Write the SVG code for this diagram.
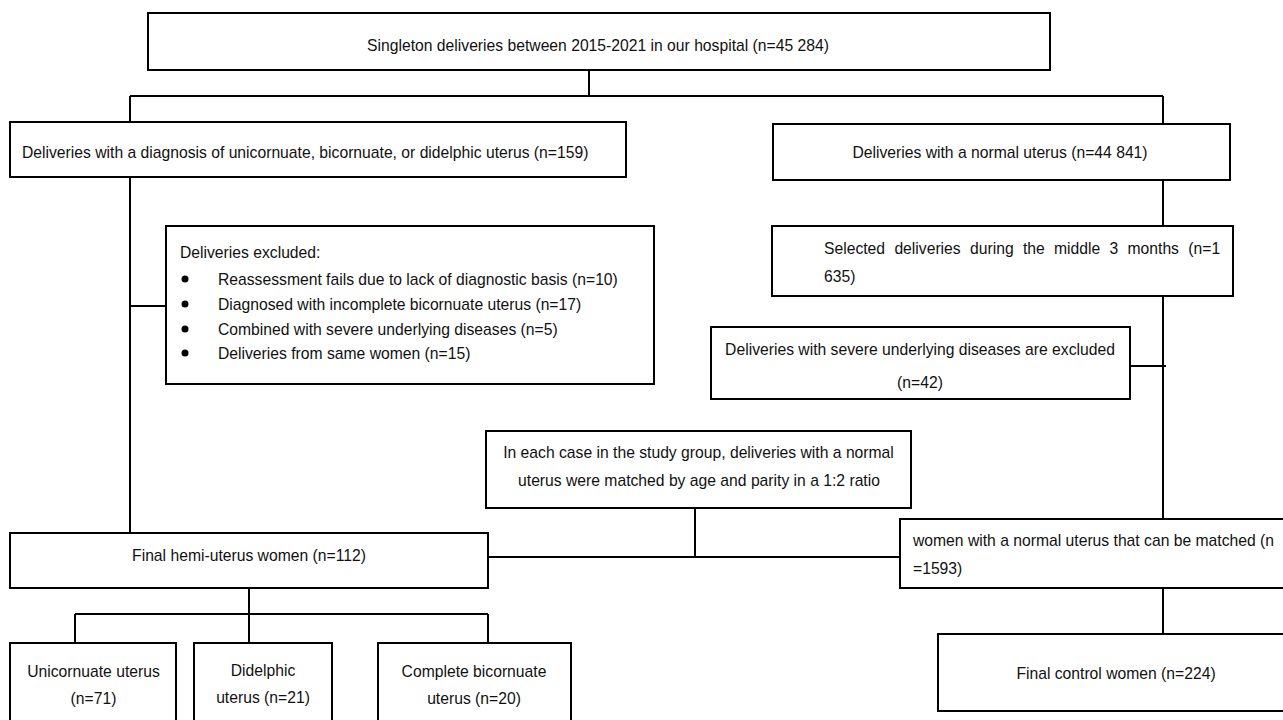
<svg xmlns="http://www.w3.org/2000/svg" width="1283" height="720" viewBox="0 0 1283 720">
<style>
.b{fill:#fff;stroke:#000;stroke-width:2}
.c{fill:none;stroke:#000;stroke-width:2}
text{font-family:"Liberation Sans",Arial,sans-serif;font-size:15.7px;fill:#111}
.m{text-anchor:middle}
</style>
<rect width="1283" height="720" fill="#fff"/>
<g id="connectors">
<path class="c" d="M589 70V96M130 96H1163M130 96V122M1163 96V124"/>
<path class="c" d="M130 177V533M130 306H166"/>
<path class="c" d="M1163 180V226M1163 296V519M1130 366H1166"/>
<path class="c" d="M695 508V557M488 557H900"/>
<path class="c" d="M1163 588V634"/>
<path class="c" d="M249 588V614M75 614H488M75 614V643M249 614V643M488 614V643"/>
</g>
<g id="n-total"><rect class="b" x="148" y="13" width="902" height="57"/><text class="m" x="598" y="51">Singleton deliveries between 2015-2021 in our hospital (n=45 284)</text></g>
<g id="n-anomaly"><rect class="b" x="10" y="122" width="616" height="55"/><text x="22" y="158">Deliveries with a diagnosis of unicornuate, bicornuate, or didelphic uterus (n=159)</text></g>
<g id="n-normal"><rect class="b" x="773" y="124" width="457" height="56"/><text class="m" x="1000" y="158">Deliveries with a normal uterus (n=44 841)</text></g>
<g id="n-excluded"><rect class="b" x="166" y="226" width="488" height="158"/>
<text x="180" y="258">Deliveries excluded:</text>
<circle cx="185" cy="279" r="3.5" fill="#000"/><text x="218" y="285">Reassessment fails due to lack of diagnostic basis (n=10)</text>
<circle cx="185" cy="304" r="3.5" fill="#000"/><text x="218" y="310">Diagnosed with incomplete bicornuate uterus (n=17)</text>
<circle cx="185" cy="329" r="3.5" fill="#000"/><text x="218" y="335">Combined with severe underlying diseases (n=5)</text>
<circle cx="185" cy="353" r="3.5" fill="#000"/><text x="218" y="359">Deliveries from same women (n=15)</text>
</g>
<g id="n-selected"><rect class="b" x="772" y="226" width="461" height="70"/>
<text y="254"><tspan x="824">Selected</tspan> <tspan x="894.4">deliveries</tspan> <tspan x="970">during</tspan> <tspan x="1022.9">the</tspan> <tspan x="1054">middle</tspan> <tspan x="1109.5">3</tspan> <tspan x="1127.5">months</tspan> <tspan x="1188.3">(n=1</tspan></text>
<text x="824" y="282">635)</text></g>
<g id="n-severe"><rect class="b" x="711" y="327" width="419" height="72"/>
<text class="m" x="920" y="355">Deliveries with severe underlying diseases are excluded</text>
<text class="m" x="920" y="388">(n=42)</text></g>
<g id="n-match"><rect class="b" x="486" y="431" width="425" height="77"/>
<text class="m" x="698.5" y="458">In each case in the study group, deliveries with a normal</text>
<text class="m" x="699" y="486">uterus were matched by age and parity in a 1:2 ratio</text></g>
<g id="n-hemi"><rect class="b" x="10" y="533" width="478" height="55"/><text class="m" x="249" y="561">Final hemi-uterus women (n=112)</text></g>
<g id="n-women"><rect class="b" x="900" y="519" width="392" height="69"/>
<text x="913" y="546">women with a normal uterus that can be matched (n</text>
<text x="913" y="574">=1593)</text></g>
<g id="n-control"><rect class="b" x="938" y="634" width="354" height="77"/><text class="m" x="1116" y="679">Final control women (n=224)</text></g>
<g id="n-uni"><rect class="b" x="10" y="643" width="166" height="90"/><text class="m" x="93.5" y="677">Unicornuate uterus</text><text class="m" x="93.5" y="704">(n=71)</text></g>
<g id="n-did"><rect class="b" x="194" y="643" width="138" height="90"/><text class="m" x="263" y="676">Didelphic</text><text class="m" x="263" y="703">uterus (n=21)</text></g>
<g id="n-bic"><rect class="b" x="378" y="643" width="193" height="90"/><text class="m" x="474" y="677">Complete bicornuate</text><text class="m" x="474" y="704">uterus (n=20)</text></g>
</svg>
